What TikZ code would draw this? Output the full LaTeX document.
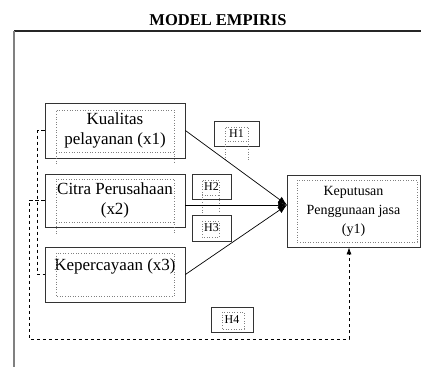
\documentclass[tikz,border=0pt]{standalone}
\usepackage{fontspec}
\setmainfont{Liberation Serif}
\usetikzlibrary{arrows.meta}

\tikzset{
  varbox/.style = {draw = black!80, line width = 0.8pt, inner sep = 0pt, align = center,
    minimum width = 140pt, font = \fontsize{17}{20.5}\selectfont},
  hbox/.style = {draw = black!80, line width = 0.8pt, inner sep = 0pt, minimum height = 25pt,
    font = \fontsize{12}{14}\selectfont},
  inbox/.style = {draw = gray, dotted, line width = 0.6pt},
  link/.style = {line width = 0.7pt, -{Latex[length = 9pt, width = 7pt]}},
  dlink/.style = {line width = 0.7pt, dash pattern = on 3.5pt off 2.5pt}
}

\begin{document}
\begin{tikzpicture}[x = 1pt, y = -1pt]
\useasboundingbox (0,0) rectangle (421,367);

% frame
\node (title) at (218,20) {\fontsize{16.5}{18}\selectfont\bfseries MODEL EMPIRIS};
\draw [line width = 1.2pt, black!85] (421,31) -- (14,31);
\draw [line width = 1.5pt, gray] (14,31) -- (14,367);

% variables
\node [varbox, minimum height = 55pt] (x1) at (115,130.5) {Kualitas\\pelayanan (x1)};
\node [varbox, minimum height = 53pt] (x2) at (115,200.5) {Citra Perusahaan\\(x2)};
\node [varbox, minimum height = 55pt] (x3) at (115,274.5) {Kepercayaan (x3)\\ \mbox{}};
\node [varbox, minimum width = 133pt, minimum height = 72pt, font = \fontsize{14}{19}\selectfont] (y1) at (353.5,211) {Keputusan\\Penggunaan jasa\\(y1)};

% hypotheses
\node [hbox, minimum width = 45pt] (h1) at (236.5,133.5) {H1};
\node [hbox, minimum width = 39pt] (h2) at (211.5,186.5) {H2};
\node [hbox, minimum width = 39pt, minimum height = 26pt] (h3) at (211.5,228) {H3};
\node [hbox, minimum width = 42pt] (h4) at (232,319.5) {H4};

% dotted text frames
\draw [inbox] (56,164) -- (56,110) -- (174,110) -- (174,164) (56,152) -- (174,152);
\draw [inbox] (56,234) -- (56,179) -- (174,179) -- (174,234) (56,222) -- (174,222);
\draw [inbox] (56,253) rectangle (174,296);
\draw [inbox] (297,180) rectangle (417,242);
\draw [inbox] (225,160) -- (225,127) -- (248,127) -- (248,160) (225,141) -- (248,141);
\draw [inbox] (202,213) -- (202,180) -- (219,180) -- (219,213) (202,195) -- (219,195);
\draw [inbox] (202,221) rectangle (219,237);
\draw [inbox] (222,312) rectangle (244,329);

% connectors
\coordinate (tip) at (287,205);
\coordinate (bl) at (29,339);
\coordinate (br) at (349,339);
\draw [link] (x1.east) -- (tip);
\draw [link] (tip -| x2.east) -- (tip);
\draw [link] (x3.east) -- (tip);
\draw [dlink] (x1.west) -- ++(-7,0) |- (x3.west);
\draw [dlink, -{Latex[length = 7pt, width = 5pt]}] (x2.west) -- (x2.west -| bl) -- (bl) -- (br) -- (br |- y1.south);
\end{tikzpicture}
\end{document}
